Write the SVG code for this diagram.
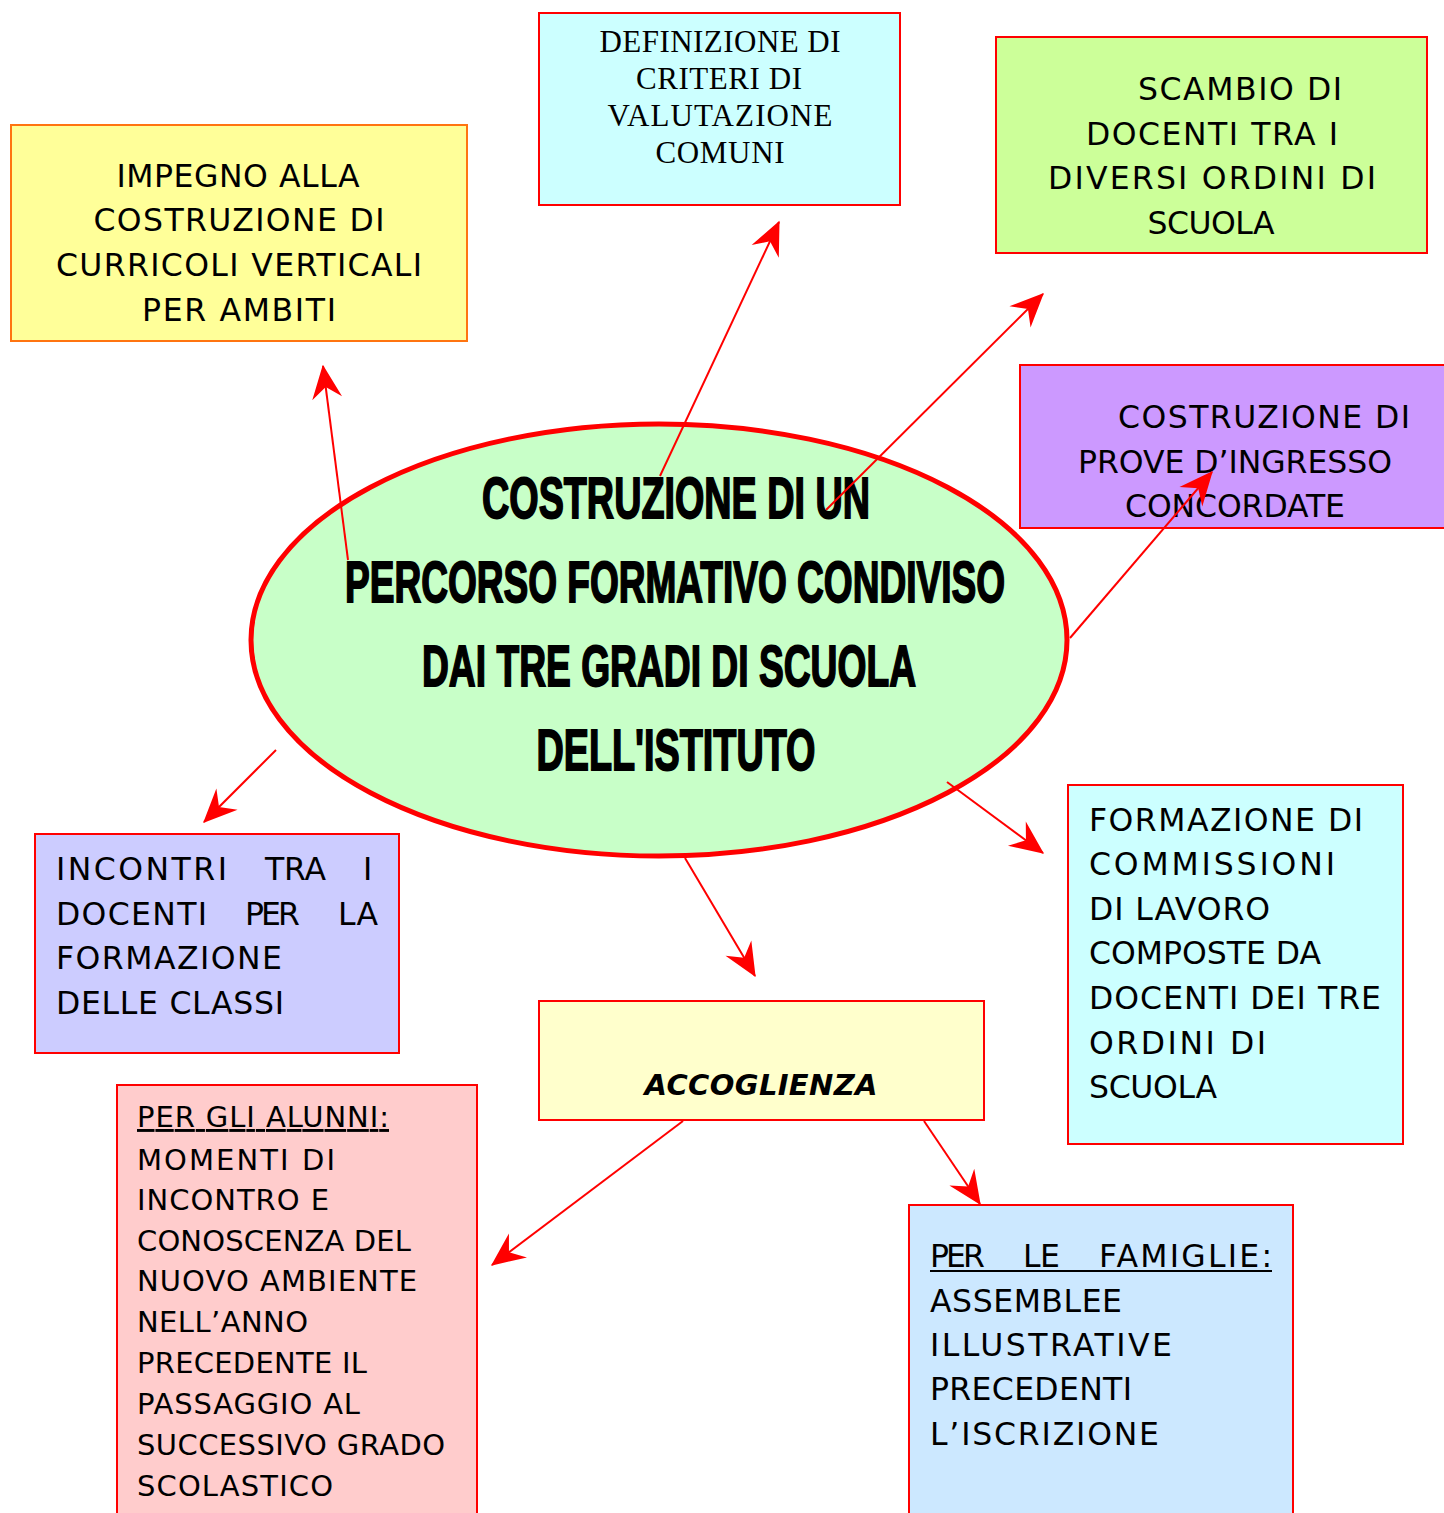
<svg xmlns="http://www.w3.org/2000/svg" width="1444" height="1513" viewBox="0 0 1444 1513">
<defs>
<style>
.box{stroke:#FF0000;stroke-width:2}
.t{font-family:"Comic Sans MS","DejaVu Sans",sans-serif;font-size:31.5px;fill:#000}
.s{font-family:"Comic Sans MS","DejaVu Sans",sans-serif;font-size:29px;fill:#000}
.tm{font-family:"Liberation Serif","Times New Roman",serif;font-size:31px;fill:#000;text-anchor:middle}
.c{text-anchor:middle}
.title{font-family:"Liberation Sans",Arial,sans-serif;font-weight:bold;font-size:57px;fill:#000;stroke:#000;stroke-width:1.8;text-anchor:middle}
.conn line{stroke:#FF0000;stroke-width:2;marker-end:url(#ah)}
</style>
<marker id="ah" markerUnits="userSpaceOnUse" markerWidth="40" markerHeight="40" viewBox="-30 -15 32 30" refX="0" refY="0" orient="auto">
<path d="M1,0 L-26,-12 L-17,0 L-26,12 Z" fill="#FF0000"/>
</marker>
</defs>
<rect width="1444" height="1513" fill="#FFFFFF"/>

<g id="center">
<ellipse cx="659" cy="640" rx="408" ry="216" fill="#C8FFC8" stroke="#FF0000" stroke-width="5"/>
<text class="title" x="676" y="518" textLength="388" lengthAdjust="spacingAndGlyphs">COSTRUZIONE DI UN</text>
<text class="title" x="675" y="602" textLength="660" lengthAdjust="spacingAndGlyphs">PERCORSO FORMATIVO CONDIVISO</text>
<text class="title" x="669" y="686" textLength="494" lengthAdjust="spacingAndGlyphs">DAI TRE GRADI DI SCUOLA</text>
<text class="title" x="676" y="770" textLength="279" lengthAdjust="spacingAndGlyphs">DELL'ISTITUTO</text>
</g>

<g id="curricoli">
<rect x="11" y="125" width="456" height="216" fill="#FFFF99" stroke="#FF7410" stroke-width="2"/>
<text class="t c" x="238" y="187" textLength="243">IMPEGNO ALLA</text>
<text class="t c" x="239" y="231" textLength="291">COSTRUZIONE DI</text>
<text class="t c" x="239" y="276" textLength="366">CURRICOLI VERTICALI</text>
<text class="t c" x="239" y="321" textLength="194">PER AMBITI</text>
</g>

<g id="criteri">
<rect class="box" x="539" y="13" width="361" height="192" fill="#CCFFFF"/>
<text class="tm" x="720" y="52" textLength="241">DEFINIZIONE DI</text>
<text class="tm" x="719" y="89" textLength="166">CRITERI DI</text>
<text class="tm" x="720" y="126" textLength="225">VALUTAZIONE</text>
<text class="tm" x="720" y="163" textLength="129">COMUNI</text>
</g>

<g id="scambio">
<rect class="box" x="996" y="37" width="431" height="216" fill="#CCFF99"/>
<text class="t c" x="1240" y="100" textLength="204">SCAMBIO DI</text>
<text class="t c" x="1212" y="145" textLength="252">DOCENTI TRA I</text>
<text class="t c" x="1212" y="189" textLength="328">DIVERSI ORDINI DI</text>
<text class="t c" x="1211" y="234" textLength="127">SCUOLA</text>
</g>

<g id="prove">
<rect class="box" x="1020" y="365" width="430" height="163" fill="#CC99FF"/>
<text class="t c" x="1264" y="428" textLength="292">COSTRUZIONE DI</text>
<text class="t c" x="1235" y="473" textLength="314">PROVE D’INGRESSO</text>
<text class="t c" x="1235" y="517" textLength="220">CONCORDATE</text>
</g>

<g id="incontri">
<rect class="box" x="35" y="834" width="364" height="219" fill="#CCCCFF"/>
<text class="t" x="56" y="880" textLength="171">INCONTRI</text>
<text class="t" x="265" y="880" textLength="61">TRA</text>
<text class="t" x="363" y="880">I</text>
<text class="t" x="56" y="925" textLength="151">DOCENTI</text>
<text class="t" x="245" y="925" textLength="55">PER</text>
<text class="t" x="338" y="925" textLength="40">LA</text>
<text class="t" x="56" y="969" textLength="226">FORMAZIONE</text>
<text class="t" x="56" y="1014" textLength="228">DELLE CLASSI</text>
</g>

<g id="commissioni">
<rect class="box" x="1068" y="785" width="335" height="359" fill="#CCFFFF"/>
<text class="t" x="1089" y="831" textLength="274">FORMAZIONE DI</text>
<text class="t" x="1089" y="875" textLength="246">COMMISSIONI</text>
<text class="t" x="1089" y="920" textLength="181">DI LAVORO</text>
<text class="t" x="1089" y="964" textLength="232">COMPOSTE DA</text>
<text class="t" x="1089" y="1009" textLength="292">DOCENTI DEI TRE</text>
<text class="t" x="1089" y="1054" textLength="177">ORDINI DI</text>
<text class="t" x="1089" y="1098" textLength="128">SCUOLA</text>
</g>

<g id="accoglienza">
<rect class="box" x="539" y="1001" width="445" height="119" fill="#FFFFCC"/>
<text class="s c" x="761" y="1095" font-weight="bold" font-style="italic" textLength="233">ACCOGLIENZA</text>
</g>

<g id="alunni">
<rect class="box" x="117" y="1085" width="360" height="440" fill="#FFCCCC"/>
<text class="s" x="137" y="1127" textLength="252" text-decoration="underline">PER GLI ALUNNI:</text>
<text class="s" x="137" y="1170" textLength="198">MOMENTI DI</text>
<text class="s" x="137" y="1210" textLength="192">INCONTRO E</text>
<text class="s" x="137" y="1251" textLength="274">CONOSCENZA DEL</text>
<text class="s" x="137" y="1291" textLength="280">NUOVO AMBIENTE</text>
<text class="s" x="137" y="1332" textLength="171">NELL’ANNO</text>
<text class="s" x="137" y="1373" textLength="230">PRECEDENTE IL</text>
<text class="s" x="137" y="1414" textLength="223">PASSAGGIO AL</text>
<text class="s" x="137" y="1455" textLength="308">SUCCESSIVO GRADO</text>
<text class="s" x="137" y="1496" textLength="196">SCOLASTICO</text>
</g>

<g id="famiglie">
<rect class="box" x="909" y="1205" width="384" height="320" fill="#CCE8FF"/>
<text class="t" x="930" y="1267" textLength="55">PER</text>
<text class="t" x="1023" y="1267" textLength="37">LE</text>
<text class="t" x="1099" y="1267" textLength="173">FAMIGLIE:</text>
<line x1="930" y1="1271" x2="1272" y2="1271" stroke="#000" stroke-width="2"/>
<text class="t" x="930" y="1312" textLength="192">ASSEMBLEE</text>
<text class="t" x="930" y="1356" textLength="242">ILLUSTRATIVE</text>
<text class="t" x="930" y="1400" textLength="202">PRECEDENTI</text>
<text class="t" x="930" y="1445" textLength="229">L’ISCRIZIONE</text>
</g>

<g id="connectors" class="conn">
<line x1="348" y1="560" x2="323" y2="366"/>
<line x1="660" y1="476" x2="779" y2="222"/>
<line x1="826" y1="510" x2="1043" y2="294"/>
<line x1="1070" y1="638" x2="1212" y2="472"/>
<line x1="276" y1="750" x2="204" y2="822"/>
<line x1="947" y1="782" x2="1043" y2="853"/>
<line x1="685" y1="858" x2="755" y2="976"/>
<line x1="683" y1="1121" x2="492" y2="1265"/>
<line x1="924" y1="1121" x2="980" y2="1204"/>
</g>
</svg>
